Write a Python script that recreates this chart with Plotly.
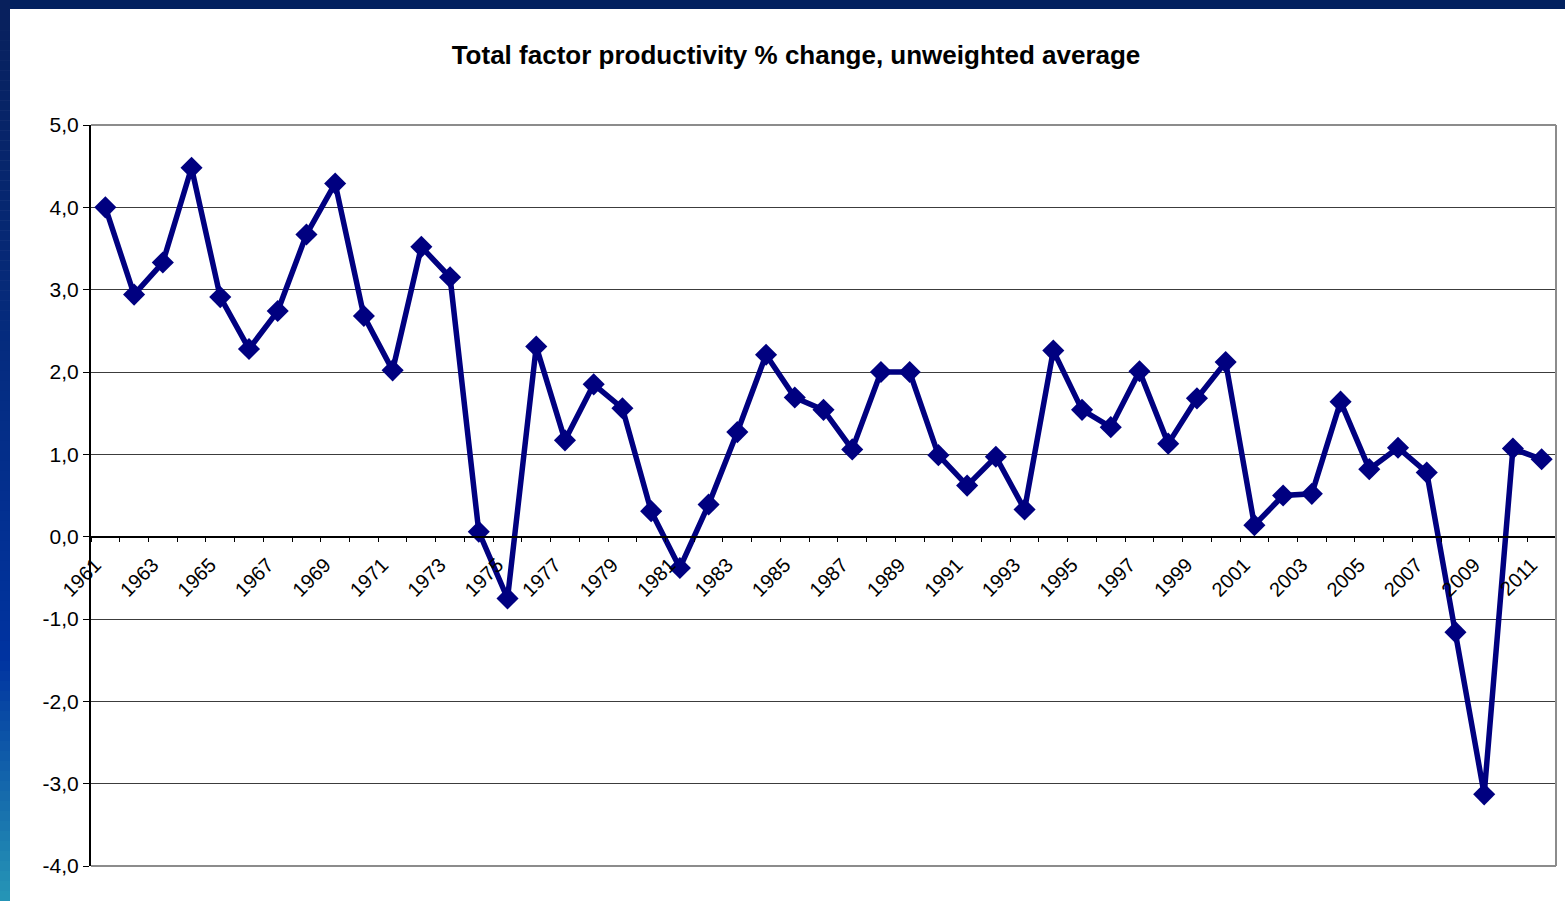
import plotly.graph_objects as go

years = [str(y) for y in range(1961, 2012)]
tfp_change = [4.00, 2.94, 3.33, 4.48, 2.91, 2.28, 2.74, 3.67, 4.29, 2.68,
              2.02, 3.52, 3.15, 0.06, -0.75, 2.31, 1.17, 1.85, 1.56, 0.31,
              -0.38, 0.39, 1.27, 2.21, 1.69, 1.54, 1.06, 2.00, 2.00, 0.99,
              0.62, 0.97, 0.33, 2.26, 1.54, 1.33, 2.01, 1.13, 1.68, 2.12,
              0.14, 0.50, 0.52, 1.64, 0.82, 1.08, 0.78, -1.16, -3.13, 1.07,
              0.94]
x_ticktext = [y if int(y) % 2 == 1 else "" for y in years]
y_tickvals = [-4, -3, -2, -1, 0, 1, 2, 3, 4, 5]
y_ticktext = ["-4,0", "-3,0", "-2,0", "-1,0", "0,0", "1,0", "2,0", "3,0", "4,0", "5,0"]

W, H = 1565, 901
L, R, T, B = 91, 1556, 125, 866

def px_x(p):
    return (p - L) / (R - L)

def px_y(p):
    return (B - p) / (B - T)

fig = go.Figure()
fig.add_trace(go.Scatter(
    x=years, y=tfp_change, mode="lines+markers",
    line=dict(color="#000080", width=5.5),
    marker=dict(symbol="diamond", size=17, color="#000080"),
    showlegend=False, cliponaxis=False,
))

shapes = []
# plot area border (top, right, bottom) in gray
for x0, y0, x1, y1 in [(0, 1, 1, 1), (1, 0, 1, 1), (0, 0, 1, 0)]:
    shapes.append(dict(type="line", xref="paper", yref="paper", x0=x0, y0=y0, x1=x1, y1=y1,
                       line=dict(color="#8c8c8c", width=2), layer="above"))

# decorative frame: top navy strip
shapes.append(dict(type="rect", xref="paper", yref="paper",
                   x0=px_x(0), x1=px_x(W), y0=px_y(9), y1=px_y(0),
                   fillcolor="#02215f", line=dict(width=0), layer="above"))

# left gradient strip
stops = [(0.0, (8, 32, 92)), (0.40, (5, 44, 128)), (0.73, (0, 51, 160)), (1.0, (38, 150, 182))]
def col(t):
    for (t0, c0), (t1, c1) in zip(stops[:-1], stops[1:]):
        if t <= t1:
            f = (t - t0) / (t1 - t0) if t1 > t0 else 0
            return "rgb(%d,%d,%d)" % tuple(round(a + (b - a) * f) for a, b in zip(c0, c1))
    return "rgb(%d,%d,%d)" % stops[-1][1]
n = 90
for i in range(n):
    p0 = H * i / n
    p1 = H * (i + 1) / n + 0.6
    shapes.append(dict(type="rect", xref="paper", yref="paper",
                       x0=px_x(0), x1=px_x(10), y0=px_y(p1), y1=px_y(p0),
                       fillcolor=col((i + 0.5) / n), line=dict(width=0), layer="above"))

fig.update_layout(
    width=W, height=H,
    margin=dict(l=L, r=W - R, t=T, b=H - B),
    paper_bgcolor="white", plot_bgcolor="white",
    font=dict(family="Arial, Liberation Sans, sans-serif", color="black"),
    title=dict(text="<b>Total factor productivity % change, unweighted average</b>",
               x=796 / W, xanchor="center", xref="container",
               y=1 - 55 / H, yanchor="middle", yref="container",
               font=dict(size=26, color="black")),
    xaxis=dict(type="category", anchor="free", position=4 / 9,
               tickmode="array", tickvals=years, ticktext=x_ticktext,
               tickson="boundaries", ticks="outside", ticklen=5, tickcolor="black",
               tickwidth=1, tickangle=-45, tickfont=dict(size=20),
               ticklabelstandoff=8, ticklabelshift=-10,
               showline=True, linecolor="black", linewidth=1.5,
               showgrid=False, zeroline=False,
               range=[-0.5, len(years) - 0.5]),
    yaxis=dict(range=[-4, 5], tickmode="array", tickvals=y_tickvals, ticktext=y_ticktext,
               ticks="outside", ticklen=6, tickcolor="black", tickwidth=1,
               tickfont=dict(size=21), showline=True, linecolor="black", linewidth=2,
               showgrid=True, gridcolor="#3c3c3c", gridwidth=1, zeroline=False),
    shapes=shapes,
)

fig.write_html("out.html")
